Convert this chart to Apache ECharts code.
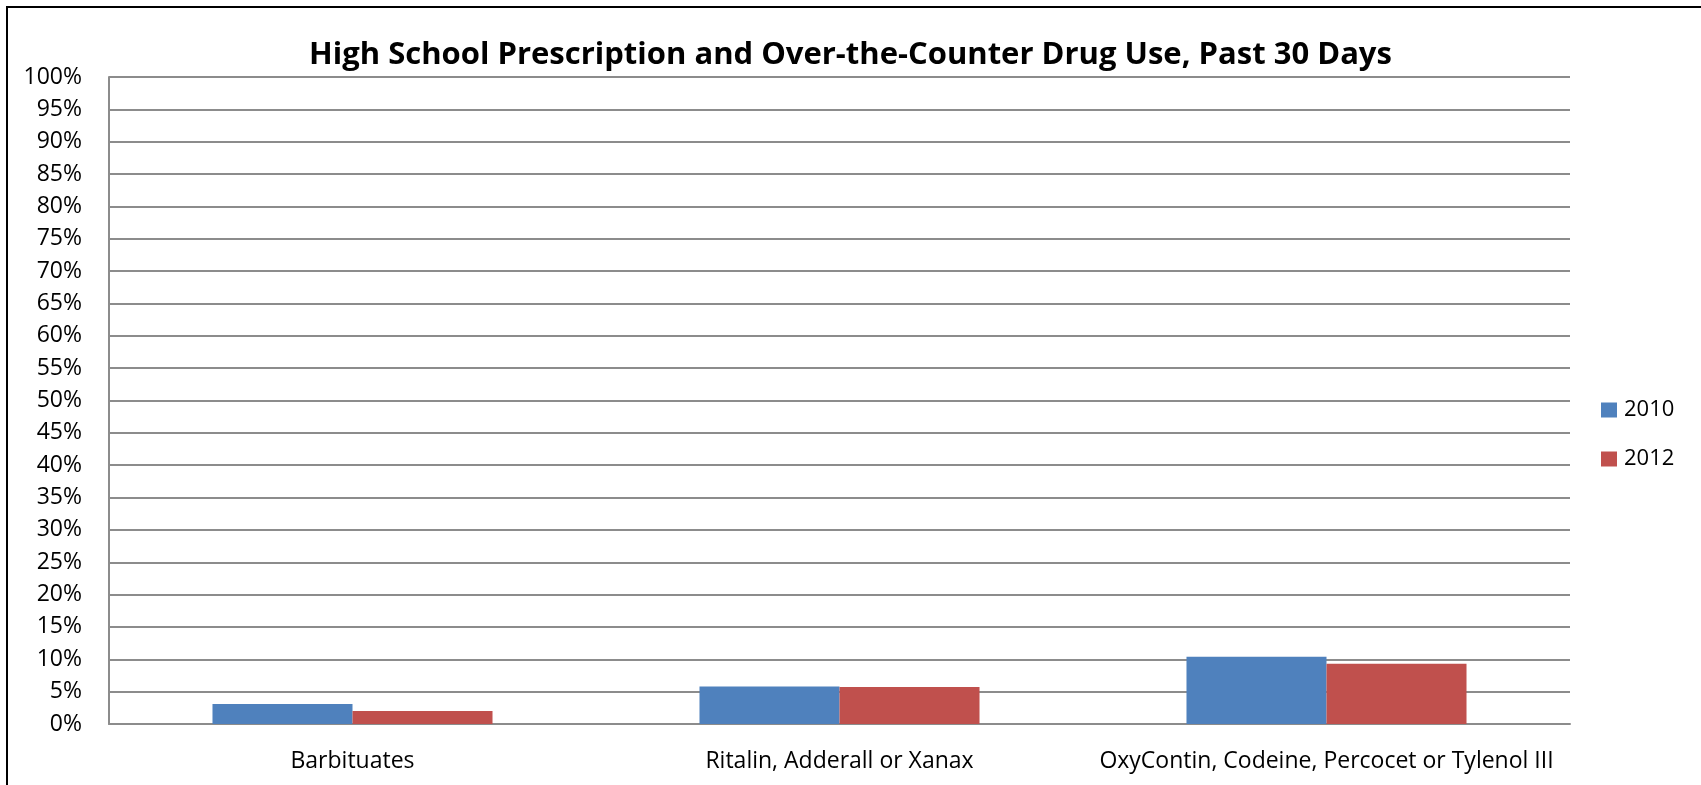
<!DOCTYPE html>
<html>
<head>
<meta charset="utf-8">
<script src="https://cdn.jsdelivr.net/npm/echarts@6/dist/echarts.min.js"></script>
<style>
html,body{margin:0;padding:0;background:#fff;}
#chart{width:1701px;height:785px;}
</style>
</head>
<body>
<div id="chart"></div>
<script>
var titleText = 'High School Prescription and Over-the-Counter Drug Use, Past 30 Days';
var categories = ['Barbituates', 'Ritalin, Adderall or Xanax', 'OxyContin, Codeine, Percocet or Tylenol III'];
var seriesNames = ['2010', '2012'];
var values2010 = [3.1, 5.8, 10.4];
var values2012 = [2.0, 5.7, 9.3];
var yMin = 0, yMax = 100, yStep = 5;

var FONT = 'Open Sans';
var chart = echarts.init(document.getElementById('chart'), null, {renderer: 'canvas'});
chart.setOption({
  backgroundColor: '#ffffff',
  animation: false,
  title: {
    text: titleText,
    left: 'center',
    top: 40,
    padding: 0,
    textStyle: {fontFamily: FONT, fontWeight: 'bold', fontSize: 31, color: '#000'}
  },
  graphic: [{
    type: 'rect',
    shape: {x: 7, y: 7, width: 1760, height: 840},
    style: {fill: 'none', stroke: '#000', lineWidth: 2},
    silent: true
  }],
  legend: {
    orient: 'vertical',
    left: 1601,
    top: 399,
    padding: 0,
    itemWidth: 16,
    itemHeight: 15,
    itemGap: 27,
    icon: 'rect',
    textStyle: {fontFamily: FONT, fontSize: 22, color: '#000', padding: [0, 0, 0, 2]},
    data: seriesNames
  },
  grid: {left: 109, right: 131, top: 77, bottom: 61, containLabel: false},
  xAxis: {
    type: 'category',
    data: categories,
    axisLine: {show: true, lineStyle: {color: '#8c8c8c', width: 2}},
    axisTick: {show: false},
    axisLabel: {fontFamily: FONT, fontSize: 23, color: '#000', margin: 26, interval: 0}
  },
  yAxis: {
    type: 'value',
    min: yMin, max: yMax, interval: yStep,
    axisLine: {show: true, lineStyle: {color: '#8c8c8c', width: 2}},
    axisTick: {show: false},
    splitLine: {show: true, lineStyle: {color: '#8c8c8c', width: 2}},
    axisLabel: {fontFamily: FONT, fontSize: 23, color: '#000', margin: 27, formatter: '{value}%'}
  },
  series: [{
    name: seriesNames[0], type: 'bar', data: values2010,
    itemStyle: {color: '#4F81BD'},
    barGap: '0%', barCategoryGap: '42.5%'
  }, {
    name: seriesNames[1], type: 'bar', data: values2012,
    itemStyle: {color: '#C0504D'},
    barGap: '0%', barCategoryGap: '42.5%'
  }]
});
</script>
</body>
</html>
